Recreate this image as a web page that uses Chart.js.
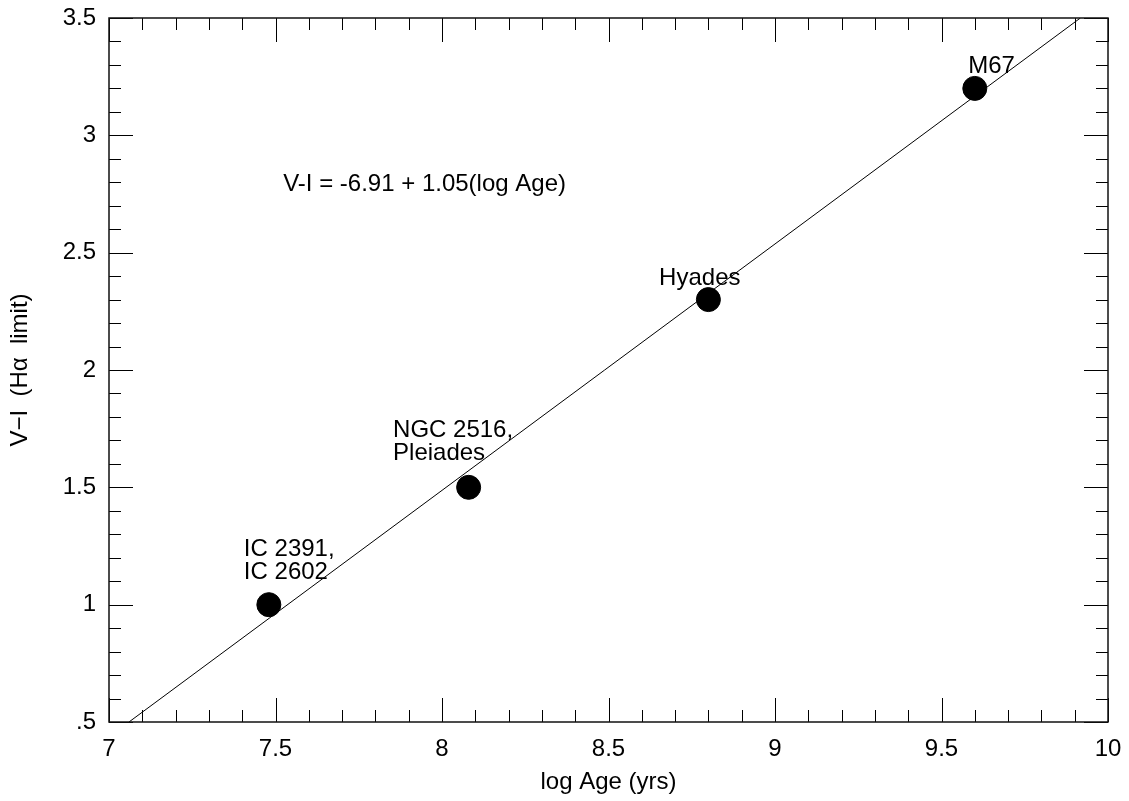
<!DOCTYPE html>
<html>
<head>
<meta charset="utf-8">
<script src="https://cdn.jsdelivr.net/npm/chart.js@4"></script>
<style>
  html, body { margin: 0; padding: 0; background: #fff; }
  #wrap { width: 1129px; height: 801px; }
</style>
</head>
<body>
<div id="wrap"><canvas id="c" width="1129" height="801"></canvas></div>
<script>
// ---- data ----
const clusterNames = ["IC 2391, IC 2602", "NGC 2516, Pleiades", "Hyades", "M67"];
const logAge = [7.48, 8.08, 8.80, 9.60];
const vMinusI = [1.0, 1.5, 2.3, 3.2];

// fitted relation V-I = -6.91 + 1.05(log Age), endpoints where it meets the frame
const fitLogAge = [7.06, 9.917];
const fitVI = [0.5, 3.5];

const xTickValues = [7, 7.5, 8, 8.5, 9, 9.5, 10];
const yTickValues = [0.5, 1, 1.5, 2, 2.5, 3, 3.5];
const yTickLabels = [".5", "1", "1.5", "2", "2.5", "3", "3.5"];

// annotation texts, anchored in data coordinates (left edge, baseline)
const annotationText = ["IC 2391,", "IC 2602", "NGC 2516,", "Pleiades", "Hyades", "M67", "V-I = -6.91 + 1.05(log Age)"];
const annotationX = [7.405, 7.405, 7.853, 7.853, 8.652, 9.580, 7.523];
const annotationY = [1.207, 1.109, 1.715, 1.617, 2.362, 3.266, 2.763];

const FONT = '"Liberation Sans", Arial, Helvetica, sans-serif';

const framePlugin = {
  id: 'frameTicks',
  afterDatasetsDraw(chart) {
    const {ctx, chartArea: a, scales: {x, y}} = chart;
    ctx.save();
    // minor / major ticks on all four sides, pointing inward
    ctx.strokeStyle = '#000';
    ctx.lineWidth = 1;
    ctx.beginPath();
    for (let i = 0; i <= 30; i++) {
      const v = x.min + i * 0.1;
      const px = Math.round(x.getPixelForValue(v)) + 0.5;
      const len = (i % 5 === 0) ? 24 : 12;
      ctx.moveTo(px, a.bottom); ctx.lineTo(px, a.bottom - len);
      ctx.moveTo(px, a.top); ctx.lineTo(px, a.top + len);
    }
    for (let i = 0; i <= 30; i++) {
      const v = y.min + i * 0.1;
      const py = Math.round(y.getPixelForValue(v)) + 0.5;
      const len = (i % 5 === 0) ? 24 : 12;
      ctx.moveTo(a.left, py); ctx.lineTo(a.left + len, py);
      ctx.moveTo(a.right, py); ctx.lineTo(a.right - len, py);
    }
    ctx.stroke();
    // frame
    ctx.lineWidth = 1.5;
    ctx.strokeStyle = '#111';
    ctx.strokeRect(a.left, a.top, a.right - a.left, a.bottom - a.top);

    // annotations
    ctx.fillStyle = '#000';
    ctx.font = '24px ' + FONT;
    ctx.textAlign = 'left';
    ctx.textBaseline = 'alphabetic';
    for (let i = 0; i < annotationText.length; i++) {
      ctx.fillText(annotationText[i], x.getPixelForValue(annotationX[i]), y.getPixelForValue(annotationY[i]));
    }
    ctx.restore();
  }
};

new Chart(document.getElementById('c'), {
  type: 'scatter',
  data: {
    datasets: [
      {
        label: 'clusters',
        data: logAge.map((v, i) => ({x: v, y: vMinusI[i]})),
        backgroundColor: '#000',
        borderColor: '#000',
        pointRadius: 12,
        pointHoverRadius: 12,
        order: 0
      },
      {
        type: 'line',
        label: 'fit',
        data: fitLogAge.map((v, i) => ({x: v, y: fitVI[i]})),
        borderColor: '#000',
        borderWidth: 1,
        pointRadius: 0,
        fill: false,
        order: 1
      }
    ]
  },
  options: {
    responsive: false,
    animation: false,
    events: [],
    layout: { padding: { top: 18, right: 21, left: 0, bottom: 0 } },
    plugins: { legend: { display: false }, tooltip: { enabled: false } },
    scales: {
      x: {
        type: 'linear',
        min: 7, max: 10,
        afterBuildTicks(s) { s.ticks = xTickValues.map(v => ({value: v})); },
        afterFit(s) { s.height = 79; s.paddingLeft = 0; s.paddingRight = 0; },
        grid: { display: false, drawTicks: false },
        border: { display: false },
        ticks: {
          color: '#000', padding: 13,
          font: { family: FONT, size: 24 },
          maxRotation: 0, autoSkip: false,
          callback: (v) => String(v)
        },
        title: {
          display: true, text: 'log Age (yrs)', color: '#000',
          font: { family: FONT, size: 24 },
          padding: { top: 0, bottom: 4 }
        }
      },
      y: {
        type: 'linear',
        min: 0.5, max: 3.5,
        afterBuildTicks(s) { s.ticks = yTickValues.map(v => ({value: v})); },
        afterFit(s) { s.width = 109; s.paddingTop = 0; s.paddingBottom = 0; },
        grid: { display: false, drawTicks: false },
        border: { display: false },
        ticks: {
          color: '#000', padding: 13,
          font: { family: FONT, size: 24 },
          autoSkip: false,
          callback: (v) => { const k = yTickValues.indexOf(v); return k >= 0 ? yTickLabels[k] : ''; }
        },
        title: {
          display: true, text: 'V\u2212I  (H\u03b1  limit)', color: '#000',
          font: { family: FONT, size: 24 },
          padding: { top: 6, bottom: 0 }
        }
      }
    }
  },
  plugins: [framePlugin]
});
</script>
</body>
</html>
